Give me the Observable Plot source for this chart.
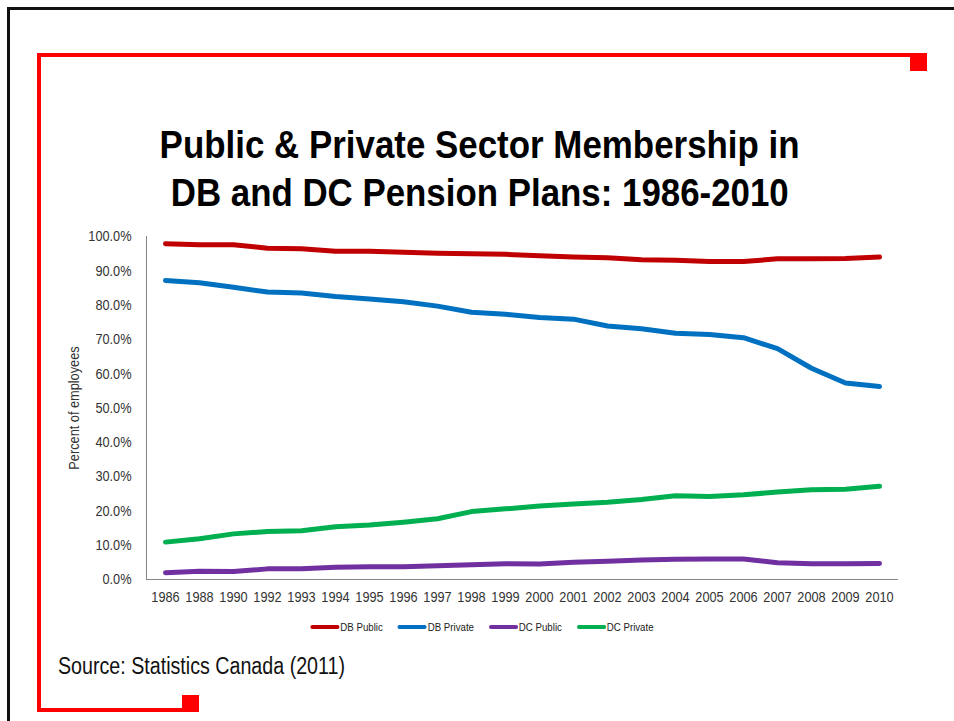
<!DOCTYPE html>
<html>
<head>
<meta charset="utf-8">
<script src="https://cdn.jsdelivr.net/npm/d3@7"></script>
<script src="https://cdn.jsdelivr.net/npm/@observablehq/plot@0.6"></script>
<style>
  html, body { margin: 0; padding: 0; background: #fff; }
  body { width: 954px; height: 721px; position: relative; overflow: hidden;
         font-family: "Liberation Sans", Arial, sans-serif; color: #000; }
  .abs { position: absolute; }
  #border { left: 7px; top: 7px; width: 1000px; height: 1000px; border: 3px solid #111; box-sizing: border-box; }
  .red { background: #ff0000; position: absolute; }
  #title { left: 0; width: 960px; top: 121px; text-align: center; font-size: 39px; line-height: 48px; font-weight: bold; }
  #title span { display: inline-block; white-space: nowrap; }
  #chart { left: 0; top: 220px; }
  #legend { left: 0; width: 964px; top: 621px; display: flex; justify-content: center; gap: 17px; font-size: 11px; color: #222; transform-origin: 482px 50%; }
  .item { display: flex; align-items: center; }
  .sw { width: 33px; height: 4px; border-radius: 2px; display: inline-block; margin-right: 1px; }
  #source { left: 58px; top: 653px; font-size: 23px; color: #111; white-space: nowrap; transform-origin: 0 50%; }
</style>
</head>
<body>
<div id="border" class="abs"></div>
<div class="red" style="left:37px; top:53px; width:890px; height:4px;"></div>
<div class="red" style="left:910px; top:53px; width:17px; height:18px;"></div>
<div class="red" style="left:37px; top:53px; width:4px; height:659px;"></div>
<div class="red" style="left:37px; top:708px; width:162px; height:4px;"></div>
<div class="red" style="left:182px; top:695px; width:17px; height:17px;"></div>
<div id="title" class="abs"><span id="t1">Public &amp; Private Sector Membership in</span><br><span id="t2">DB and DC Pension Plans: 1986-2010</span></div>
<div id="chart" class="abs"></div>
<div id="legend" class="abs"></div>
<div id="source" class="abs">Source: Statistics Canada (2011)</div>
<script>
const years = ["1986","1988","1990","1992","1993","1994","1995","1996","1997","1998","1999","2000","2001","2002","2003","2004","2005","2006","2007","2008","2009","2010"];
const dbPublic  = [97.9,97.6,97.6,96.6,96.4,95.7,95.7,95.4,95.1,95.0,94.8,94.4,94.0,93.8,93.2,93.1,92.7,92.7,93.5,93.5,93.6,94.0];
const dbPrivate = [87.2,86.5,85.2,83.8,83.5,82.5,81.8,81.0,79.7,77.9,77.3,76.4,75.9,73.9,73.1,71.8,71.4,70.5,67.3,61.6,57.3,56.3];
const dcPublic  = [2.0,2.4,2.3,3.1,3.1,3.6,3.7,3.7,4.0,4.3,4.6,4.5,5.0,5.3,5.7,5.9,6.0,6.0,4.9,4.6,4.6,4.7];
const dcPrivate = [10.9,11.9,13.3,14.0,14.2,15.4,15.9,16.7,17.7,19.8,20.6,21.4,22.0,22.5,23.3,24.4,24.2,24.7,25.5,26.2,26.3,27.2];
const seriesNames = ["DB Public","DB Private","DC Public","DC Private"];
const seriesColors = ["#C00000","#0070C0","#7030A0","#00B050"];
const yTicks = [0,10,20,30,40,50,60,70,80,90,100];

const seriesValues = [dbPublic, dbPrivate, dcPublic, dcPrivate];
const rows = [];
seriesNames.forEach((name, s) => years.forEach((yr, i) => rows.push({series: name, year: yr, value: seriesValues[s][i]})));

const chart = Plot.plot({
  width: 954,
  height: 400,
  marginLeft: 146,
  marginRight: 57,
  marginTop: 16,
  marginBottom: 41,
  style: {fontFamily: '"Liberation Sans", Arial, sans-serif', fontSize: "15px", color: "#333", background: "transparent"},
  x: {type: "band", domain: years, padding: 0},
  y: {domain: [0, 100]},
  color: {domain: seriesNames, range: seriesColors},
  marks: [
    Plot.axisY({ticks: yTicks, tickSize: 0, tickPadding: 15, tickFormat: d => d.toFixed(1) + "%", fontSize: 15,
      label: "Percent of employees", labelAnchor: "center", labelArrow: "none", labelOffset: 78}),
    Plot.axisX({tickSize: 0, tickPadding: 12, fontSize: 15, label: null}),
    Plot.frame({anchor: "left", stroke: "#868686"}),
    Plot.frame({anchor: "bottom", stroke: "#868686"}),
    Plot.lineY(rows, {x: "year", y: "value", z: "series", stroke: "series", strokeWidth: 5, strokeLinecap: "round", strokeLinejoin: "round"})
  ]
});
document.getElementById("chart").appendChild(chart);

// condense text to imitate a narrow typeface
chart.querySelectorAll('g[aria-label="x-axis tick label"] text, g[aria-label="y-axis tick label"] text').forEach(t => {
  const tr = t.getAttribute("transform") || "";
  t.setAttribute("transform", tr + " scale(0.85,1)");
});
chart.querySelectorAll('g[aria-label="y-axis label"] text').forEach(t => {
  const tr = t.getAttribute("transform") || "";
  t.setAttribute("transform", tr + " scale(0.88,1)");
  t.style.fontSize = "14.5px";
});

const legend = document.getElementById("legend");
seriesNames.forEach((name, i) => {
  const item = document.createElement("div");
  item.className = "item";
  const sw = document.createElement("span");
  sw.className = "sw";
  sw.style.background = seriesColors[i];
  item.appendChild(sw);
  const t = document.createElement("span");
  t.textContent = name;
  item.appendChild(t);
  legend.appendChild(item);
});
legend.style.transform = "scaleX(0.88)";

function fitX(el, target, origin) {
  const w = el.getBoundingClientRect().width;
  el.style.transformOrigin = origin;
  el.style.transform = "scaleX(" + (target / w) + ")";
}
fitX(document.getElementById("t1"), 640, "50% 50%");
fitX(document.getElementById("t2"), 618, "50% 50%");
fitX(document.getElementById("source"), 287, "0 50%");
</script>
</body>
</html>
